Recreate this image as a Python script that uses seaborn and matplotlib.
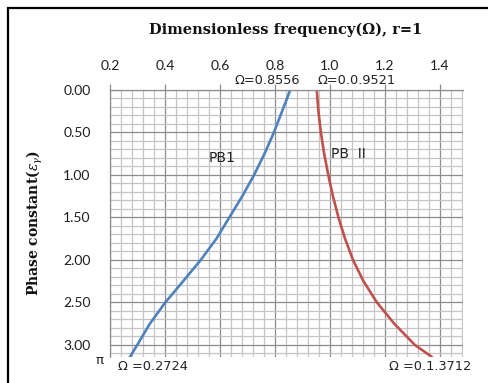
import matplotlib
matplotlib.use("Agg")
import matplotlib.pyplot as plt
import seaborn as sns
import numpy as np
import pandas as pd
from matplotlib.patches import Rectangle

# ---- data ----
phase_pb1 = [0.0, 0.25, 0.5, 0.75, 1.0, 1.25, 1.5, 1.75, 2.0, 2.25, 2.5, 2.75, 3.0, 3.1416]
omega_pb1 = [0.8556, 0.826, 0.796, 0.762, 0.724, 0.681, 0.634, 0.587, 0.530, 0.466, 0.401, 0.345, 0.299, 0.2724]
phase_pb2 = [0.0, 0.25, 0.5, 0.75, 1.0, 1.25, 1.5, 1.75, 2.0, 2.25, 2.5, 2.75, 3.0, 3.1416]
omega_pb2 = [0.9521, 0.958, 0.967, 0.979, 0.994, 1.011, 1.031, 1.055, 1.084, 1.122, 1.171, 1.234, 1.309, 1.3712]

x_major = [0.2, 0.4, 0.6, 0.8, 1.0, 1.2, 1.4]
y_major = [0.0, 0.5, 1.0, 1.5, 2.0, 2.5, 3.0]
y_labels = ["0.00", "0.50", "1.00", "1.50", "2.00", "2.50", "3.00"]

df1 = pd.DataFrame({"omega": omega_pb1, "phase": phase_pb1})
df2 = pd.DataFrame({"omega": omega_pb2, "phase": phase_pb2})

sns.set_style("white")
plt.rcParams["mathtext.fontset"] = "dejavuserif"

W, H = 488, 383
fig = plt.figure(figsize=(W / 100, H / 100), dpi=100)
L, R, T, B = 110, 463, 90, 357
ax = fig.add_axes([L / W, 1 - B / H, (R - L) / W, (B - T) / H])

sns.lineplot(data=df1, x="omega", y="phase", sort=False, estimator=None,
             color="#4f81bd", lw=1.9, ax=ax, solid_joinstyle="round")
sns.lineplot(data=df2, x="omega", y="phase", sort=False, estimator=None,
             color="#c0504d", lw=1.9, ax=ax, solid_joinstyle="round")

ax.set_xlim(0.2, 1.484)
ax.set_ylim(np.pi, 0)

ax.set_xticks(x_major)
ax.set_xticks(np.arange(0.24, 1.49, 0.04), minor=True)
ax.set_yticks(y_major)
ax.set_yticks(np.arange(0.1, 3.11, 0.1), minor=True)
ax.set_yticklabels(y_labels)
ax.set_xticklabels([f"{v:.1f}" for v in x_major])

ax.xaxis.tick_top()
ax.xaxis.set_label_position("top")
ax.tick_params(axis="x", which="major", direction="out", length=4, width=0.9,
               color="#8c8c8c", pad=9, labelsize=10, labelcolor="#1e1e1e")
ax.tick_params(axis="y", which="major", direction="out", length=6, width=0.9,
               color="#8c8c8c", pad=8, labelsize=10, labelcolor="#1e1e1e")
ax.tick_params(which="minor", length=0)
for lab in ax.get_xticklabels() + ax.get_yticklabels():
    lab.set_fontfamily("Lato")

ax.grid(which="minor", color="#c4c4c4", lw=0.9)
ax.grid(which="major", color="#8c8c8c", lw=0.9)
ax.set_axisbelow(True)
for s in ["right", "bottom"]:
    ax.spines[s].set_visible(False)
for s in ["left", "top"]:
    ax.spines[s].set_color("#8c8c8c")
    ax.spines[s].set_linewidth(0.9)

ax.set_xlabel("")
ax.set_ylabel("")

# titles
fig.text(286 / W, 1 - 30 / H, "Dimensionless frequency(\u03a9), r=1",
         ha="center", va="center", fontsize=10.5, fontweight="bold",
         family="DejaVu Serif", color="#111111")
fig.text(35 / W, 1 - 223 / H, r"Phase constant($\epsilon_\gamma$)",
         ha="center", va="center", rotation=90, fontsize=10, fontweight="bold",
         family="DejaVu Serif", color="#111111")

# annotations
def ftext(px, py, s, **kw):
    fig.text(px / W, 1 - py / H, s, ha="center", va="center",
             family="DejaVu Sans", color="#222222", **kw)

ftext(267, 80, "\u03a9=0.8556", fontsize=9.3)
ftext(357, 81, "\u03a9=0.0.9521", fontsize=9.3)
ftext(153, 366, "\u03a9 =0.2724", fontsize=9.3)
ftext(430, 366, "\u03a9 =0.1.3712", fontsize=9.3)
ftext(100, 360, "\u03c0", fontsize=9.5)
ftext(222, 158, "PB1", fontsize=10)
ftext(348, 154, "PB  II", fontsize=10)

# outer frame (cropped on the right and bottom)
fig.patches.append(Rectangle((8 / W, -0.2), 1.3, 1.2 - 8 / H,
                             transform=fig.transFigure, fill=False,
                             ec="black", lw=1.6, clip_on=False))

fig.savefig("out.png", dpi=100)
